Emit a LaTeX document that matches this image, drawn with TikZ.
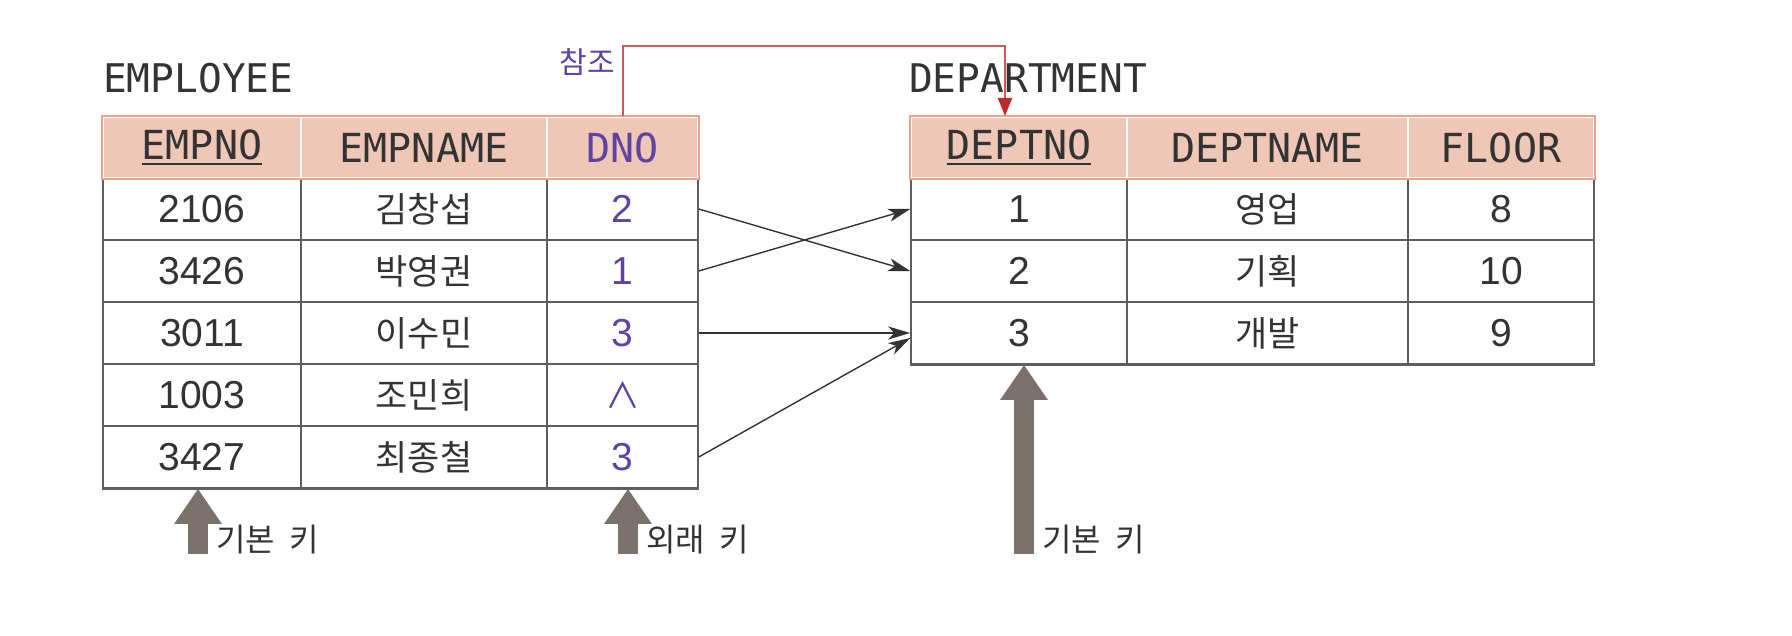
\documentclass[tikz,border=0pt]{standalone}
\usepackage{fontspec}
\newfontfamily\kr{Noto Sans CJK KR}
\newfontfamily\mono{DejaVu Sans Mono}
\newfontfamily\num{Liberation Sans}
\usetikzlibrary{arrows.meta}
\definecolor{hdrfill}{HTML}{EFC7B7}
\definecolor{hdrline}{HTML}{E9A68C}
\definecolor{gridc}{HTML}{5E5E5E}
\definecolor{txt}{HTML}{333333}
\definecolor{fk}{HTML}{5E43A3}
\definecolor{refred}{HTML}{CD5A5A}
\definecolor{refhead}{HTML}{BE2B2B}
\definecolor{keyg}{HTML}{7A716C}
\newcommand\keyul[1]{\setbox0\hbox{#1}\rlap{\rule[-6pt]{\wd0}{2.4pt}}\box0}
\newcommand\kgap{\hspace{0.45em}}
\begin{document}
\begin{tikzpicture}[x=1pt,y=-1pt,
  cell/.style={draw=gridc, line width=1.5pt, inner sep=0pt, minimum height=62pt,
    font=\num\fontsize{39}{44}\selectfont, text=txt},
  krname/.style={font=\kr\fontsize{35}{40}\selectfont},
  hdr/.style={fill=hdrfill, draw=white, line width=2pt, inner sep=0pt, minimum height=61pt,
    font=\mono\fontsize{40}{44}\selectfont, text=txt},
  fkcol/.style={text=fk},
  ea/.style={minimum width=198pt}, eb/.style={minimum width=246pt}, ec/.style={minimum width=151pt},
  da/.style={minimum width=216pt}, db/.style={minimum width=281pt}, dc/.style={minimum width=186pt},
  title/.style={anchor=west, inner sep=0pt, font=\mono\fontsize{39.5}{44}\selectfont, text=txt},
  link/.style={draw=txt, line width=1.4pt, -{Stealth[length=22pt,width=13pt,inset=6pt]}},
  refline/.style={draw=refred, line width=2pt, -{Triangle[length=18pt,width=14pt,color=refhead]}},
  keyarrow/.style={draw=keyg, line width=20pt, -{Triangle[length=35pt,width=45pt]}},
  keylbl/.style={anchor=west, inner sep=0pt, font=\kr\fontsize{32}{36}\selectfont, text=txt},
  reflbl/.style={inner sep=0pt, font=\kr\fontsize{30}{34}\selectfont, text=fk}]
\useasboundingbox[fill=white] (0,0) rectangle (1792,636);

% titles
\node[title] (emp) at (103,78) {EMPLOYEE};
\node[title] (dept) at (909,78) {DEPARTMENT};

% EMPLOYEE body
\node[cell,ea] (e1a) at (202,209) {2106};
\node[cell,eb,krname] (e1b) at (424,209) {김창섭};
\node[cell,ec,fkcol] (e1c) at (622.5,209) {2};
\node[cell,ea] (e2a) at (202,271) {3426};
\node[cell,eb,krname] (e2b) at (424,271) {박영권};
\node[cell,ec,fkcol] (e2c) at (622.5,271) {1};
\node[cell,ea] (e3a) at (202,333) {3011};
\node[cell,eb,krname] (e3b) at (424,333) {이수민};
\node[cell,ec,fkcol] (e3c) at (622.5,333) {3};
\node[cell,ea] (e4a) at (202,395) {1003};
\node[cell,eb,krname] (e4b) at (424,395) {조민희};
\node[cell,ec,fkcol,krname] (e4c) at (622.5,395) {∧};
\node[cell,ea] (e5a) at (202,457) {3427};
\node[cell,eb,krname] (e5b) at (424,457) {최종철};
\node[cell,ec,fkcol] (e5c) at (622.5,457) {3};
\draw[gridc, line width=2.2pt] (e5a.south west) -- (e5c.south east);

% EMPLOYEE header
\node[hdr,ea] (e0a) at (202,147.5) {\keyul{EMPNO}};
\node[hdr,eb] (e0b) at (424,147.5) {EMPNAME};
\node[hdr,ec,fkcol] (e0c) at (622.5,147.5) {DNO};
\draw[hdrline, line width=2pt] (e0a.north west) rectangle (e0c.south east);

% DEPARTMENT body
\node[cell,da] (d1a) at (1019,209) {1};
\node[cell,db,krname] (d1b) at (1267.5,209) {영업};
\node[cell,dc] (d1c) at (1501,209) {8};
\node[cell,da] (d2a) at (1019,271) {2};
\node[cell,db,krname] (d2b) at (1267.5,271) {기획};
\node[cell,dc] (d2c) at (1501,271) {10};
\node[cell,da] (d3a) at (1019,333) {3};
\node[cell,db,krname] (d3b) at (1267.5,333) {개발};
\node[cell,dc] (d3c) at (1501,333) {9};
\draw[gridc, line width=2.2pt] (d3a.south west) -- (d3c.south east);

% DEPARTMENT header
\node[hdr,da] (d0a) at (1019,147.5) {\keyul{DEPTNO}};
\node[hdr,db] (d0b) at (1267.5,147.5) {DEPTNAME};
\node[hdr,dc] (d0c) at (1501,147.5) {FLOOR};
\draw[hdrline, line width=2pt] (d0a.north west) rectangle (d0c.south east);

% reference connector
\coordinate (rt) at (1005,46);
\draw[refline] (e0c.north) |- (rt) -- (rt |- d0a.north);
\node[reflbl] (ref) at (587,62) {참조};

% value links
\draw[link] (e1c.east) -- (d2a.west);
\draw[link] (e2c.east) -- (d1a.west);
\draw[link] (e3c.east) -- (d3a.west);
\draw[link] (e5c.east) -- ([yshift=-5pt]d3a.west);

% key arrows
\coordinate (k1) at (198,554);
\coordinate (k2) at (628,554);
\coordinate (k3) at (1024,554);
\draw[keyarrow] (k1) -- (k1 |- e5a.south);
\draw[keyarrow] (k2) -- (k2 |- e5c.south);
\draw[keyarrow] (k3) -- (k3 |- d3a.south);
\node[keylbl] (l1) at (216,540) {기본\kgap 키};
\node[keylbl] (l2) at (646,540) {외래\kgap 키};
\node[keylbl] (l3) at (1042,540) {기본\kgap 키};
\end{tikzpicture}
\end{document}
